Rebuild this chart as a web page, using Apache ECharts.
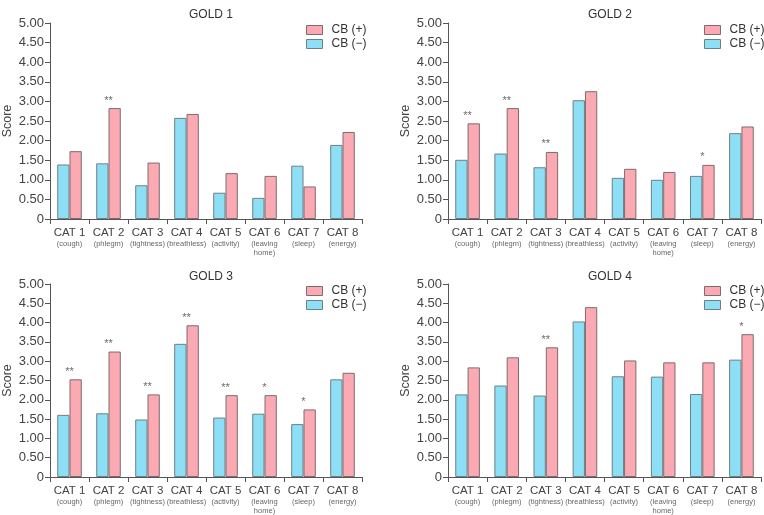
<!DOCTYPE html>
<html>
<head>
<meta charset="utf-8">
<script src="https://cdn.jsdelivr.net/npm/echarts@6/dist/echarts.min.js"></script>
<style>
html,body{margin:0;padding:0;background:#fff;}
#c{width:764px;height:515px;}
</style>
</head>
<body>
<div id="c"></div>
<script>
// ---- data ----
var categories = ['CAT 1', 'CAT 2', 'CAT 3', 'CAT 4', 'CAT 5', 'CAT 6', 'CAT 7', 'CAT 8'];
var subLabels = ['(cough)', '(phlegm)', '(tightness)', '(breathless)', '(activity)', '(leaving\nhome)', '(sleep)', '(energy)'];
var panelTitles = ['GOLD 1', 'GOLD 2', 'GOLD 3', 'GOLD 4'];
var yTicks = [0, 0.5, 1, 1.5, 2, 2.5, 3, 3.5, 4, 4.5, 5];

var gold1Neg = [1.39, 1.42, 0.86, 2.58, 0.67, 0.54, 1.36, 1.89];
var gold1Pos = [1.73, 2.83, 1.44, 2.68, 1.17, 1.10, 0.83, 2.22];
var gold1Sig = ['', '**', '', '', '', '', '', ''];

var gold2Neg = [1.51, 1.67, 1.32, 3.03, 1.05, 1.00, 1.10, 2.19];
var gold2Pos = [2.44, 2.83, 1.71, 3.26, 1.28, 1.20, 1.38, 2.36];
var gold2Sig = ['**', '**', '**', '', '', '', '*', ''];

var gold3Neg = [1.61, 1.65, 1.49, 3.45, 1.54, 1.64, 1.37, 2.53];
var gold3Pos = [2.53, 3.25, 2.14, 3.93, 2.12, 2.12, 1.75, 2.70];
var gold3Sig = ['**', '**', '**', '**', '**', '*', '*', ''];

var gold4Neg = [2.14, 2.37, 2.11, 4.03, 2.61, 2.60, 2.15, 3.04];
var gold4Pos = [2.84, 3.10, 3.36, 4.40, 3.02, 2.97, 2.97, 3.70];
var gold4Sig = ['', '', '**', '', '', '', '', '*'];

var negSets = [gold1Neg, gold2Neg, gold3Neg, gold4Neg];
var posSets = [gold1Pos, gold2Pos, gold3Pos, gold4Pos];
var sigSets = [gold1Sig, gold2Sig, gold3Sig, gold4Sig];

var NAME_POS = 'CB (+)';
var NAME_NEG = 'CB (\u2212)';

// ---- layout ----
var FONT = 'Liberation Sans, Arial, sans-serif';
var grids = [
  {left: 49, top: 23, width: 313, height: 196},
  {left: 448, top: 23, width: 313, height: 196},
  {left: 49, top: 284, width: 313, height: 197},
  {left: 448, top: 284, width: 313, height: 197}
];
var titlePos = [[206, 4], [605, 4], [206, 266], [605, 266]];
var legendPos = [[301, 19], [699, 19], [301, 280], [699, 280]];

var option = {
  animation: false,
  backgroundColor: '#fff',
  textStyle: {fontFamily: FONT},
  title: [], legend: [], grid: [], xAxis: [], yAxis: [], series: []
};

for (var i = 0; i < 4; i++) {
  option.grid.push(grids[i]);
  option.title.push({
    text: panelTitles[i], left: titlePos[i][0], top: titlePos[i][1],
    textAlign: 'center',
    textStyle: {fontSize: 12, fontWeight: 'normal', color: '#333', fontFamily: FONT}
  });
  option.legend.push({
    data: [NAME_POS, NAME_NEG], orient: 'vertical',
    left: legendPos[i][0], top: legendPos[i][1],
    icon: 'rect', itemWidth: 16, itemHeight: 9, itemGap: 2,
    itemStyle: {borderWidth: 1},
    textStyle: {fontSize: 12, color: '#333', fontFamily: FONT, padding: [0, 0, 0, 4]},
    selectedMode: false
  });
  option.xAxis.push({
    type: 'category', gridIndex: i, data: categories,
    axisLine: {lineStyle: {color: '#555', width: 1}},
    axisTick: {show: true, length: 5, lineStyle: {color: '#555'}},
    axisLabel: {
      interval: 0, margin: 7, color: '#444',
      formatter: function (v, idx) { return v + '\n{s|' + subLabels[idx].replace('\n', '}\n{s|') + '}'; },
      fontSize: 11.5, fontFamily: FONT, lineHeight: 13,
      rich: {s: {fontSize: 7.5, lineHeight: 9, color: '#666', fontFamily: FONT}}
    }
  });
  option.yAxis.push({
    type: 'value', gridIndex: i, min: 0, max: 5, interval: 0.5,
    name: 'Score', nameLocation: 'middle', nameGap: 36,
    nameTextStyle: {fontSize: 12.5, color: '#444', fontFamily: FONT},
    axisLine: {show: true, lineStyle: {color: '#555', width: 1}},
    axisTick: {show: true, length: 5, lineStyle: {color: '#555'}},
    splitLine: {show: false},
    axisLabel: {
      fontSize: 13, color: '#444', margin: 6, fontFamily: FONT,
      formatter: function (v) { return v === 0 ? '0' : v.toFixed(2); }
    }
  });
  option.series.push({
    name: NAME_NEG, type: 'bar', xAxisIndex: i, yAxisIndex: i,
    data: negSets[i], barGap: '0%', barCategoryGap: '37%',
    itemStyle: {color: '#8DDFF6', borderColor: '#6f7f84', borderWidth: 1}
  });
  option.series.push({
    name: NAME_POS, type: 'bar', xAxisIndex: i, yAxisIndex: i,
    data: posSets[i], barGap: '0%', barCategoryGap: '37%',
    itemStyle: {color: '#FBAAB3', borderColor: '#7d6c6e', borderWidth: 1}
  });
  (function (sig, pos) {
    option.series.push({
      name: 'sig' + i, type: 'scatter', xAxisIndex: i, yAxisIndex: i,
      symbolSize: 0, silent: true,
      data: pos.map(function (v, k) { return [k, v]; }),
      label: {
        show: true, position: 'top', distance: 2,
        fontSize: 11, color: '#444', fontFamily: FONT,
        formatter: function (p) { return sig[p.dataIndex]; }
      }
    });
  })(sigSets[i], posSets[i]);
}

var chart = echarts.init(document.getElementById('c'), null, {renderer: 'canvas'});
chart.setOption(option);
</script>
</body>
</html>
